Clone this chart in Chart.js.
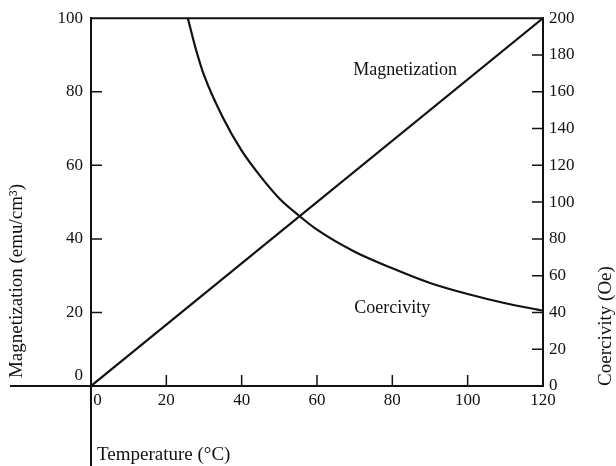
<!DOCTYPE html>
<html>
<head>
<meta charset="utf-8">
<script src="https://cdn.jsdelivr.net/npm/chart.js@4/dist/chart.umd.min.js"></script>
<style>
  html, body { margin: 0; padding: 0; background: #fff; }
  #wrap { width: 616px; height: 466px; }
</style>
</head>
<body>
<div id="wrap"><canvas id="magChart"></canvas></div>
<script>
// temperature (C) vs magnetization, straight line through the origin
var magTemp = [0, 120];
var magValue = [0, 100];

// coercivity (Oe) falling off with temperature
var coerTemp = [25.7, 28, 30, 35, 40, 45, 50, 55, 60, 70, 80, 90, 100, 110, 120];
var coerValue = [200, 182, 169, 146, 128, 114, 102, 93, 85, 73, 64, 56, 50, 45, 41];

var xTicks = [0, 20, 40, 60, 80, 100, 120];
var magTicks = [0, 20, 40, 60, 80, 100];
var coerTicks = [0, 20, 40, 60, 80, 100, 120, 140, 160, 180, 200];

var serif = "'Liberation Serif', 'DejaVu Serif', serif";
var ink = "#111";

function toPoints(xs, ys) {
    return xs.map(function (x, i) { return { x: x, y: ys[i] }; });
}

// inward tick marks, the box top, the long axis lines and the text labels
var decorations = {
    id: 'decorations',
    afterDraw: function (chart) {
        var c = chart.ctx;
        var a = chart.chartArea;
        var sx = chart.scales.x, sy = chart.scales.y, sy1 = chart.scales.y1;
        var len = 11;

        c.save();
        c.strokeStyle = ink;
        c.lineWidth = 2;
        c.beginPath();
        // top edge of the box
        c.moveTo(a.left, a.top);
        c.lineTo(a.right, a.top);
        // temperature axis runs past the left side
        c.moveTo(10, a.bottom);
        c.lineTo(a.left, a.bottom);
        // zero line runs down to the bottom
        c.moveTo(a.left, a.bottom);
        c.lineTo(a.left, chart.height);
        c.stroke();

        c.lineWidth = 1.5;
        c.beginPath();
        xTicks.slice(1, -1).forEach(function (v) {
            var px = sx.getPixelForValue(v);
            c.moveTo(px, a.bottom);
            c.lineTo(px, a.bottom - len);
        });
        magTicks.slice(1, -1).forEach(function (v) {
            var py = sy.getPixelForValue(v);
            c.moveTo(a.left, py);
            c.lineTo(a.left + len, py);
        });
        coerTicks.slice(1, -1).forEach(function (v) {
            var py = sy1.getPixelForValue(v);
            c.moveTo(a.right, py);
            c.lineTo(a.right - len, py);
        });
        c.stroke();

        c.fillStyle = ink;
        c.textBaseline = 'middle';

        // the left zero sits a little above the axis
        c.font = "17px " + serif;
        c.textAlign = 'right';
        c.fillText('0', a.left - 8, sy.getPixelForValue(0) - 10);

        c.font = "18px " + serif;
        c.textAlign = 'center';
        c.fillText('Magnetization', sx.getPixelForValue(83.4), sy.getPixelForValue(85.8));
        c.fillText('Coercivity', sx.getPixelForValue(80), sy.getPixelForValue(21.2));

        c.font = "19px " + serif;
        c.textAlign = 'left';
        c.fillText('Temperature (\u00B0C)', a.left + 6, 455);

        c.save();
        c.translate(17, 281);
        c.rotate(-Math.PI / 2);
        c.textAlign = 'center';
        c.fillText('Magnetization (emu/cm\u00B3)', 0, 0);
        c.restore();

        c.save();
        c.translate(606, 326);
        c.rotate(-Math.PI / 2);
        c.textAlign = 'center';
        c.fillText('Coercivity (Oe)', 0, 0);
        c.restore();

        c.restore();
    }
};

var ctx = document.getElementById('magChart');
var myChart = new Chart(ctx, {
    type: 'line',
    data: {
        datasets: [{
            label: 'Magnetization',
            data: toPoints(magTemp, magValue),
            yAxisID: 'y',
            borderColor: ink,
            borderWidth: 2.2,
            pointRadius: 0,
            fill: false
        }, {
            label: 'Coercivity',
            data: toPoints(coerTemp, coerValue),
            yAxisID: 'y1',
            borderColor: ink,
            borderWidth: 2.2,
            pointRadius: 0,
            cubicInterpolationMode: 'monotone',
            fill: false
        }]
    },
    options: {
        responsive: true,
        maintainAspectRatio: false,
        animation: false,
        layout: { padding: { top: 13, left: 0, right: 0, bottom: 0 } },
        plugins: {
            legend: { display: false },
            tooltip: { enabled: false }
        },
        scales: {
            x: {
                type: 'linear',
                min: 0,
                max: 120,
                afterFit: function (s) { s.height = 80; },
                afterBuildTicks: function (s) { s.ticks = xTicks.map(function (v) { return { value: v }; }); },
                grid: { drawOnChartArea: false, drawTicks: false },
                border: { display: true, color: ink, width: 2 },
                ticks: {
                    padding: 4,
                    color: ink,
                    font: { family: serif, size: 17 },
                    maxRotation: 0,
                    callback: function (v) { return v === 0 ? '   0' : v; }
                }
            },
            y: {
                position: 'left',
                min: 0,
                max: 100,
                afterFit: function (s) { s.width = 91; },
                afterBuildTicks: function (s) { s.ticks = magTicks.map(function (v) { return { value: v }; }); },
                grid: { drawOnChartArea: false, drawTicks: false },
                border: { display: true, color: ink, width: 2 },
                ticks: {
                    padding: 8,
                    color: ink,
                    font: { family: serif, size: 17 },
                    // zero is drawn separately, raised off the axis
                    callback: function (v) { return v === 0 ? '' : v; }
                }
            },
            y1: {
                position: 'right',
                min: 0,
                max: 200,
                afterFit: function (s) { s.width = 73; },
                afterBuildTicks: function (s) { s.ticks = coerTicks.map(function (v) { return { value: v }; }); },
                grid: { drawOnChartArea: false, drawTicks: false },
                border: { display: true, color: ink, width: 2 },
                ticks: {
                    padding: 6,
                    color: ink,
                    font: { family: serif, size: 17 }
                }
            }
        }
    },
    plugins: [decorations]
});
</script>
</body>
</html>
